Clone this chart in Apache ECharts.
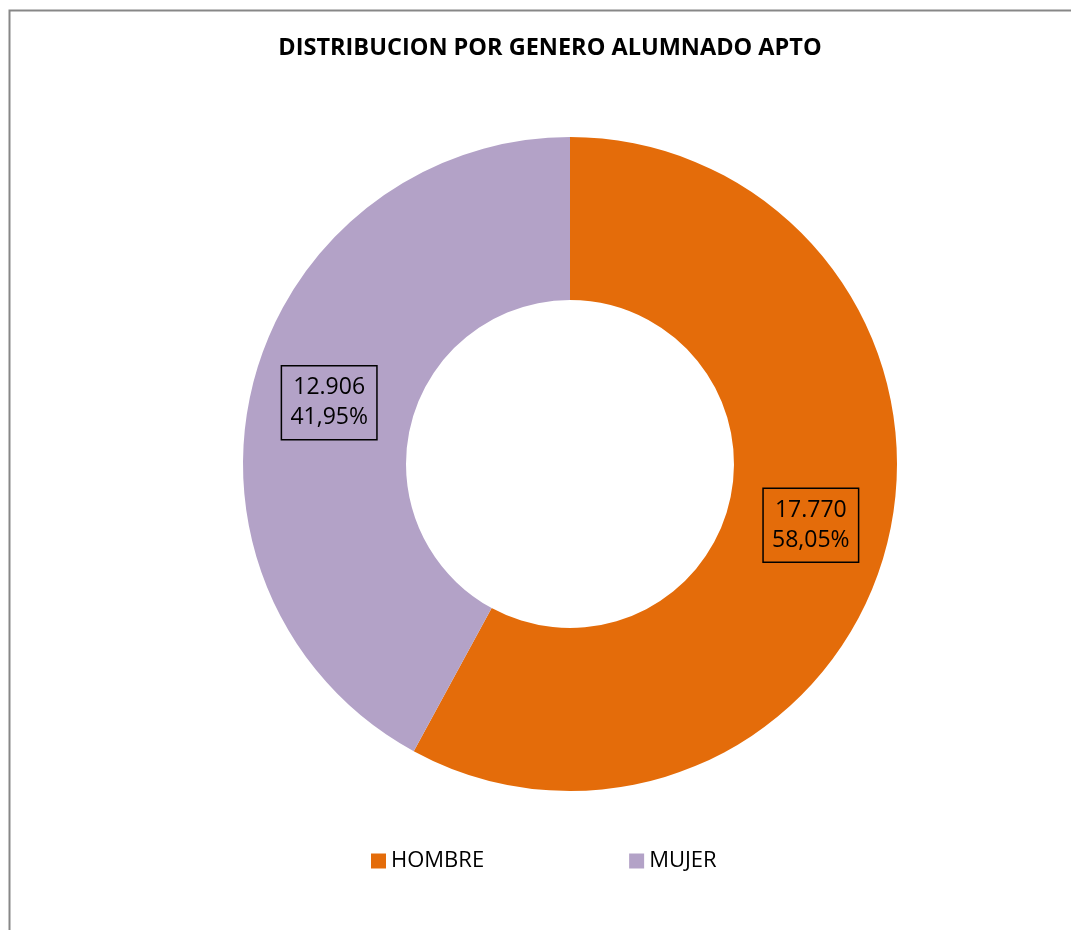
<!DOCTYPE html>
<html><head><meta charset="utf-8">
<style>html,body{margin:0;padding:0;background:#fff}#c{width:1071px;height:930px}</style>
<script src="https://cdn.jsdelivr.net/npm/echarts@6/dist/echarts.min.js"></script>
</head><body><div id="c"></div>
<script>
const categories = ['HOMBRE', 'MUJER'];
const values = [17770, 12906];
const valueLabels = ['17.770', '12.906'];
const percentLabels = ['58,05%', '41,95%'];
const colors = ['#E46C0A', '#B3A2C7'];
const titleText = 'DISTRIBUCION POR GENERO ALUMNADO APTO';

const chart = echarts.init(document.getElementById('c'), null, {renderer: 'canvas'});
const FONT = 'Open Sans, Liberation Sans, sans-serif';
chart.setOption({
  animation: false,
  graphic: [{
    type: 'rect', left: 7, top: 8, shape: {width: 1200, height: 1000},
    style: {fill: 'none', stroke: '#878787', lineWidth: 2}, silent: true, z: -10
  }],
  title: {
    text: titleText, left: 545, top: 31, textAlign: 'center',
    textStyle: {fontFamily: FONT, fontWeight: 'bold', fontSize: 23.5, color: '#000'}
  },
  legend: {
    data: categories, left: 366, top: 845, itemGap: 145, itemWidth: 15, itemHeight: 15,
    icon: 'rect',
    textStyle: {fontFamily: FONT, fontSize: 22, color: '#000'}
  },
  series: [{
    type: 'pie', center: [570, 464], radius: [164, 327], startAngle: 90, clockwise: true,
    itemStyle: {borderWidth: 0},
    label: {
      show: true, position: 'inside',
      formatter: p => valueLabels[p.dataIndex] + '\n' + percentLabels[p.dataIndex],
      fontFamily: FONT, fontSize: 23, color: '#000', lineHeight: 30,
      borderColor: '#000', borderWidth: 1.5, padding: [7, 9, 7, 9]
    },
    labelLine: {show: false},
    emphasis: {disabled: true},
    data: categories.map((c, i) => ({name: c, value: values[i], itemStyle: {color: colors[i]}}))
  }]
});
</script></body></html>
